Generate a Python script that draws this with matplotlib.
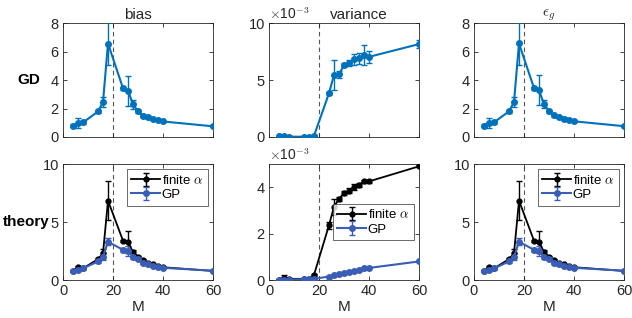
import numpy as np
import matplotlib
matplotlib.use("Agg")
import matplotlib.pyplot as plt

plt.rcParams["font.family"] = ["Liberation Sans", "DejaVu Sans"]
plt.rcParams["mathtext.fontset"] = "cm"

M = [4, 6, 8, 14, 16, 18, 24, 26, 28, 30, 32, 34, 36, 38, 40, 60]

# GD (simulation)
gd_bias = [0.79, 0.98, 1.02, 1.79, 2.45, 6.56, 3.42, 3.26, 2.3, 1.8, 1.5, 1.37, 1.28, 1.16, 1.09, 0.75]
gd_bias_err = [0.12, 0.35, 0.1, 0.1, 0.35, 1.5, 0.1, 1.05, 0.3, 0.1, 0.1, 0.08, 0.08, 0.06, 0.06, 0.05]
gd_var = [0.05, 0.08, 0.03, 0.02, 0.03, 0.1, 3.84, 5.44, 5.5, 6.3, 6.5, 6.8, 6.9, 7.2, 7.03, 8.15]  # x1e-3
gd_var_err = [0.05, 0.05, 0.05, 0.05, 0.05, 0.05, 0.15, 1.28, 0.3, 0.15, 0.25, 0.5, 0.5, 0.9, 0.5, 0.35]
gd_eg = [0.8, 0.99, 1.03, 1.8, 2.45, 6.57, 3.43, 3.27, 2.31, 1.81, 1.51, 1.38, 1.29, 1.17, 1.1, 0.76]
gd_eg_err = [0.12, 0.35, 0.1, 0.1, 0.35, 1.5, 0.1, 1.05, 0.3, 0.1, 0.1, 0.08, 0.08, 0.06, 0.06, 0.05]

# theory
th_bias_fin = [0.8, 1.1, 1.0, 1.8, 2.3, 6.84, 3.39, 3.3, 2.4, 2.0, 1.7, 1.5, 1.35, 1.2, 1.1, 0.78]
th_bias_fin_err = [0.05, 0.15, 0.05, 0.1, 0.35, 1.7, 0.1, 0.95, 0.2, 0.1, 0.08, 0.06, 0.05, 0.05, 0.05, 0.03]
th_bias_gp = [0.8, 0.85, 1.0, 1.6, 2.0, 3.3, 2.6, 2.5, 2.0, 1.8, 1.5, 1.35, 1.25, 1.15, 1.05, 0.8]
th_bias_gp_err = [0.1, 0.1, 0.1, 0.1, 0.3, 0.3, 0.15, 0.4, 0.15, 0.1, 0.1, 0.1, 0.08, 0.06, 0.05, 0.05]
th_var_fin = [0.02, 0.1, 0.05, 0.05, 0.05, 0.22, 2.36, 3.16, 3.49, 3.75, 3.85, 4.0, 4.1, 4.25, 4.25, 4.9]  # x1e-3
th_var_fin_err = [0.02, 0.1, 0.02, 0.02, 0.02, 0.05, 0.15, 0.35, 0.1, 0.1, 0.1, 0.12, 0.08, 0.05, 0.05, 0.04]
th_var_gp = [0.02, 0.02, 0.02, 0.03, 0.04, 0.05, 0.15, 0.2, 0.25, 0.3, 0.35, 0.4, 0.45, 0.5, 0.52, 0.8]
th_var_gp_err = [0.01, 0.01, 0.01, 0.01, 0.01, 0.01, 0.02, 0.02, 0.02, 0.02, 0.02, 0.02, 0.02, 0.02, 0.02, 0.02]
th_eg_fin = th_bias_fin
th_eg_fin_err = th_bias_fin_err
th_eg_gp = th_bias_gp
th_eg_gp_err = th_bias_gp_err

C_GD = "#0072BD"
C_GP = "#3A5DB5"
C_FIN = "black"

fig = plt.figure(figsize=(6.32, 3.18), dpi=100)
lefts = [63 / 632, 269 / 632, 474 / 632]
w = 150 / 632
top_row = [1 - 137 / 318, 114 / 318]
bot_row = [1 - 280 / 318, 116 / 318]


def style_ax(ax, xlabels):
    ax.set_xlim(0, 60)
    ax.set_xticks([0, 20, 40, 60])
    ax.tick_params(direction="in", top=True, right=True, length=3, width=0.6,
                   labelsize=10.5, pad=3, colors="#262626")
    if not xlabels:
        ax.set_xticklabels([])
    for s in ax.spines.values():
        s.set_linewidth(0.6)
        s.set_color("#262626")
    ax.axvline(20, color="#555555", ls=(0, (4, 3)), lw=0.8, zorder=1)


def eb(ax, y, e, c, label=None, lw=1.5, ms=4):
    return ax.errorbar(M, y, yerr=e, color=c, lw=lw, marker="o", ms=ms,
                       capsize=2.5, elinewidth=1.0, capthick=1.0, label=label, zorder=3)


def offset_label(ax):
    ax.text(0.0, 1.01, r"$\times$10$^{-3}$", transform=ax.transAxes, fontsize=10,
            va="bottom", ha="left", color="#262626")


# top row
ax1 = fig.add_axes([lefts[0], top_row[0], w, top_row[1]])
eb(ax1, gd_bias, gd_bias_err, C_GD)
ax1.set_ylim(0, 8)
ax1.set_yticks([0, 2, 4, 6, 8])
style_ax(ax1, False)
ax1.set_title("bias", fontsize=11, pad=3, color="#262626")

ax2 = fig.add_axes([lefts[1], top_row[0], w, top_row[1]])
eb(ax2, gd_var, gd_var_err, C_GD)
ax2.set_ylim(0, 10)
ax2.set_yticks([0, 5, 10])
style_ax(ax2, False)
ax2.set_title("variance", fontsize=11, pad=3, color="#262626", x=0.6)
offset_label(ax2)

ax3 = fig.add_axes([lefts[2], top_row[0], w, top_row[1]])
eb(ax3, gd_eg, gd_eg_err, C_GD)
ax3.set_ylim(0, 8)
ax3.set_yticks([0, 2, 4, 6, 8])
style_ax(ax3, False)
ax3.set_title(r"$\epsilon_g$", fontsize=11, pad=3, color="#262626")

# bottom row
ax4 = fig.add_axes([lefts[0], bot_row[0], w, bot_row[1]])
eb(ax4, th_bias_fin, th_bias_fin_err, C_FIN, r"finite $\alpha$", lw=1.3, ms=3.5)
eb(ax4, th_bias_gp, th_bias_gp_err, C_GP, "GP", lw=1.5, ms=4)
ax4.set_ylim(0, 10)
ax4.set_yticks([0, 5, 10])
style_ax(ax4, True)
ax4.set_xlabel("M", fontsize=11, labelpad=1, color="#262626")

ax5 = fig.add_axes([lefts[1], bot_row[0], w, bot_row[1]])
eb(ax5, th_var_fin, th_var_fin_err, C_FIN, r"finite $\alpha$", lw=1.3, ms=3.5)
eb(ax5, th_var_gp, th_var_gp_err, C_GP, "GP", lw=1.5, ms=4)
ax5.set_ylim(0, 5)
ax5.set_yticks([0, 2, 4])
style_ax(ax5, True)
ax5.set_xlabel("M", fontsize=11, labelpad=1, color="#262626")
offset_label(ax5)

ax6 = fig.add_axes([lefts[2], bot_row[0], w, bot_row[1]])
eb(ax6, th_eg_fin, th_eg_fin_err, C_FIN, r"finite $\alpha$", lw=1.3, ms=3.5)
eb(ax6, th_eg_gp, th_eg_gp_err, C_GP, "GP", lw=1.5, ms=4)
ax6.set_ylim(0, 10)
ax6.set_yticks([0, 5, 10])
style_ax(ax6, True)
ax6.set_xlabel("M", fontsize=11, labelpad=1, color="#262626")

for ax, loc, anchor in [(ax4, "upper right", (1.0, 1.0)), (ax6, "upper right", (1.0, 1.0)),
                        (ax5, "center right", (1.0, 0.5))]:
    leg = ax.legend(loc=loc, bbox_to_anchor=anchor, fontsize=9.5, frameon=True, fancybox=False,
                    handlelength=2.2, handletextpad=0.1, borderpad=0.35, labelspacing=0.15,
                    borderaxespad=0.4)
    leg.get_frame().set_edgecolor("#262626")
    leg.get_frame().set_linewidth(0.6)

fig.text(29 / 632, 1 - 80 / 318, "GD", fontsize=11, fontweight="bold", ha="center", va="center")
fig.text(26 / 632, 1 - 222 / 318, "theory", fontsize=11, fontweight="bold", ha="center", va="center")

fig.savefig("out.png", dpi=100)
